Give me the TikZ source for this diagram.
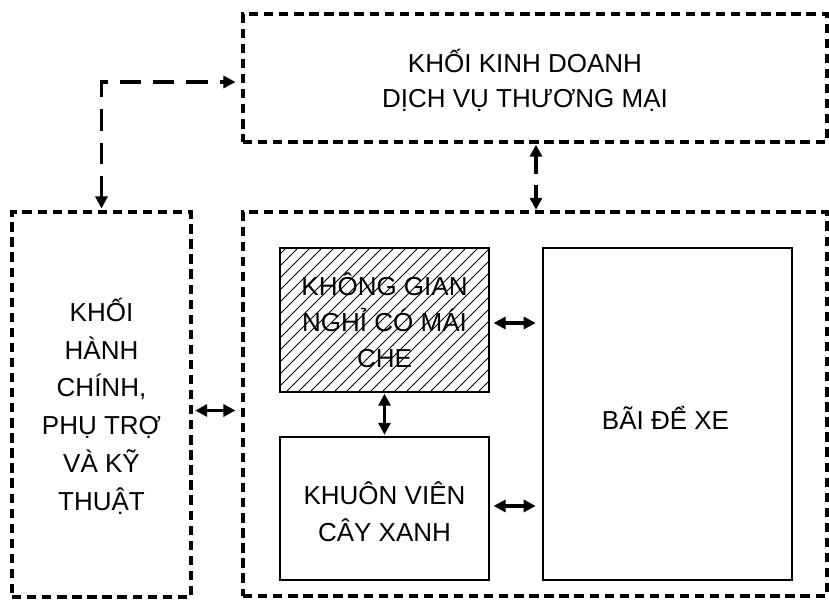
\documentclass[tikz,border=0pt]{standalone}
\usepackage{fontspec}
\setmainfont{Liberation Sans}
\usetikzlibrary{arrows.meta}
\begin{document}
\begin{tikzpicture}[x=0.75pt,y=-0.75pt,
  zone/.style={draw, line width=2.3pt, dash pattern=on 7pt off 4.3pt, inner sep=0pt},
  room/.style={draw, line width=0.9pt, inner sep=0pt},
  hatchline/.style={line width=0.6pt},
  txt/.style={align=center, inner sep=0pt, font=\fontsize{19.5pt}{#1}\selectfont},
  txt/.default=27pt,
  dbl/.style={line width=2.3pt, {Triangle[length=9pt,width=9pt]}-{Triangle[length=9pt,width=9pt]}},
  dlink/.style={dbl, dash pattern=on 16pt off 9pt}]
\useasboundingbox (0,0) rectangle (829,601);
% boxes
\node[zone, minimum width=438pt, minimum height=96pt] (top) at (535,78) {};
\node[zone, minimum width=134.25pt, minimum height=288.75pt] (left) at (101.5,404.5) {};
\node[zone, minimum width=438pt, minimum height=288pt] (big) at (535,404) {};
% hatching of the covered rest area
\begin{scope}
  \clip (280,248) rectangle (489,392);
  \foreach \x in {130,142,...,500} \draw[hatchline] (\x,392) -- ++(144,-144);
\end{scope}
\node[room, minimum width=156.75pt, minimum height=108pt] (shelter) at (384.5,320) {};
\node[room, minimum width=156.75pt, minimum height=107.25pt] (garden) at (384.5,508.5) {};
\node[room, minimum width=186.75pt, minimum height=249pt] (parking) at (667.5,414) {};
% texts
\node[txt=26.5pt] (toptext) at (525,80) {KHỐI KINH DOANH\\DỊCH VỤ THƯƠNG MẠI};
\node[txt=28.3pt] (lefttext) at (101.5,406) {KHỐI\\HÀNH\\CHÍNH,\\PHỤ TRỢ\\VÀ KỸ\\THUẬT};
\node[txt=27pt] (sheltertext) at (384.5,320) {KHÔNG GIAN\\NGHỈ CÓ MÁI\\CHE};
\node[txt=27.5pt] (gardentext) at (384.5,512) {KHUÔN VIÊN\\CÂY XANH};
\node[txt] (parkingtext) at (665.5,418) {BÃI ĐỂ XE};
% connectors
\draw[dbl, shorten <=2pt, shorten >=4.5pt] ([yshift=-4.5pt]left.east) -- ([yshift=-4.5pt]left.east -| big.west);
\draw[dbl, shorten <=3pt, shorten >=5pt] ([yshift=-2.25pt]shelter.east) -- ([yshift=-2.25pt]shelter.east -| parking.west);
\draw[dbl, shorten <=3pt, shorten >=5pt] ([yshift=1.9pt]garden.east) -- ([yshift=1.9pt]garden.east -| parking.west);
\draw[dbl, shorten <=0.8pt, shorten >=1.2pt] (shelter.south) -- (garden.north);
\draw[dbl, dash pattern=on 13.5pt off 8.5pt, shorten <=0.8pt, shorten >=0.5pt] ([xshift=0.75pt]top.south) -- ([xshift=0.75pt]big.north);
\draw[dlink, shorten <=1.5pt, shorten >=4.5pt] (left.north) |- ([yshift=-3pt]top.west);
\end{tikzpicture}
\end{document}
